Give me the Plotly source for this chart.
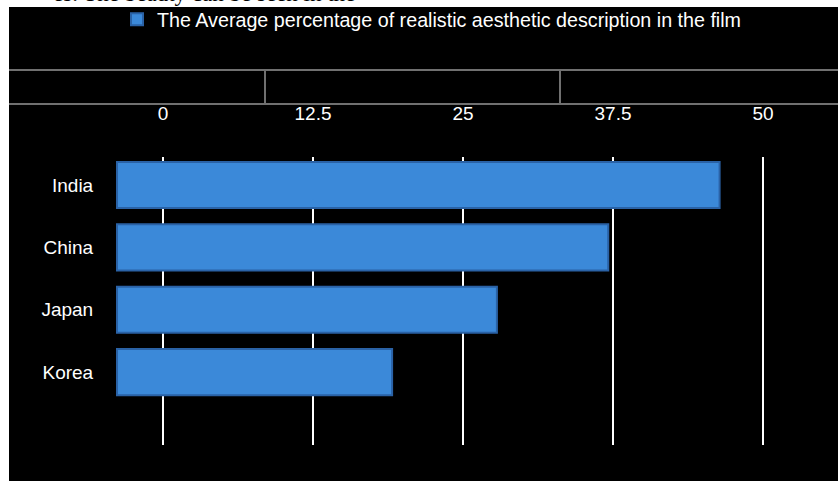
import plotly.graph_objects as go

# ---- data ----
countries = ["India", "China", "Japan", "Korea"]
values = [46, 37.5, 29, 21]
series_name = "The Average percentage of realistic aesthetic description in the film"
tick_vals = [0, 12.5, 25, 37.5, 50]
tick_text = ["0", "12.5", "25", "37.5", "50"]
cropped_caption = "es. The beauty can be seen in the"

W, H = 838, 481
FONT = "Liberation Sans, Arial, Helvetica, sans-serif"


def px(x):
    return x / W


def py(y):
    return 1 - y / H


# plot area in pixels
PL, PR, PT, PB = 104, 838, 157, 445

# grid (visible) axis: 0 -> 163 px, 50 -> 763 px
g0, gs = 163, 12.0
grid_range = [(PL - g0) / gs, (PR - g0) / gs]
# bar axis (perspective offset, hidden): 0 -> 117 px
b0, bs = 117, 13.1
bar_range = [(PL - b0) / bs, (PR - b0) / bs]

fig = go.Figure()
# invisible helper so the visible grid axis (back wall) is rendered
fig.add_trace(go.Scatter(
    y=countries, x=values, mode="markers", xaxis="x", yaxis="y",
    marker=dict(opacity=0, size=1), showlegend=False, hoverinfo="skip",
))
fig.add_trace(go.Bar(
    y=countries, x=values, orientation="h", name=series_name,
    marker=dict(color="#3B89D9", line=dict(color="#2A62A6", width=2)),
    xaxis="x2", yaxis="y",
))

fig.update_layout(
    width=W, height=H,
    margin=dict(l=0, r=0, t=0, b=0, autoexpand=False),
    paper_bgcolor="white",
    plot_bgcolor="rgba(0,0,0,0)",
    font=dict(family=FONT, size=19, color="white"),
    bargap=0.26,
    showlegend=True,
    legend=dict(
        orientation="h", x=px(117), xanchor="left", y=py(0), yanchor="top",
        bgcolor="rgba(0,0,0,0)", font=dict(family=FONT, size=19.7, color="white"),
    ),
    # visible grid axis
    xaxis=dict(
        domain=[px(PL), px(PR)], range=grid_range, side="top",
        anchor="y", tickmode="array", tickvals=tick_vals, ticktext=tick_text,
        showgrid=True, gridcolor="white", gridwidth=2, zeroline=False,
        ticks="outside", ticklen=28, tickcolor="rgba(0,0,0,0)",
        tickfont=dict(family=FONT, size=19, color="white"),
        showline=False, fixedrange=True,
    ),
    # hidden bar axis (front plane of the 3D chart)
    xaxis2=dict(
        domain=[px(PL), px(PR)], range=bar_range, overlaying="x", anchor="y",
        visible=False, showgrid=False, zeroline=False, fixedrange=True,
    ),
    yaxis=dict(
        domain=[py(PB), py(PT)], type="category", categoryorder="array",
        categoryarray=countries, range=[4.17, -0.45],
        showgrid=False, zeroline=False, showline=False,
        ticks="outside", ticklen=6, tickcolor="rgba(0,0,0,0)",
        tickfont=dict(family=FONT, size=19, color="white"),
    ),
    shapes=[
        dict(type="rect", xref="paper", yref="paper", x0=px(9), x1=1, y0=0, y1=py(7),
             fillcolor="black", line=dict(width=0), layer="below"),
        dict(type="line", xref="paper", yref="paper", x0=px(9), x1=1, y0=py(70), y1=py(70),
             line=dict(color="#707070", width=2)),
        dict(type="line", xref="paper", yref="paper", x0=px(9), x1=1, y0=py(104), y1=py(104),
             line=dict(color="#707070", width=2)),
        dict(type="line", xref="paper", yref="paper", x0=px(265), x1=px(265), y0=py(70), y1=py(104),
             line=dict(color="#707070", width=2)),
        dict(type="line", xref="paper", yref="paper", x0=px(560), x1=px(560), y0=py(70), y1=py(104),
             line=dict(color="#707070", width=2)),
    ],
    annotations=[
        dict(text=cropped_caption, xref="paper", yref="paper", x=px(357), xanchor="right",
             y=py(8.5), yanchor="bottom", showarrow=False,
             font=dict(family="Liberation Serif, Times New Roman, serif", size=23, color="black")),
    ],
)

fig.write_html("out.html")
